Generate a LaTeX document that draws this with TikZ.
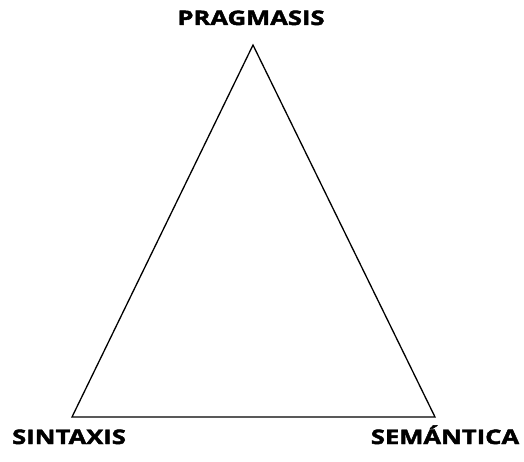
\documentclass[tikz,border=0pt]{standalone}
\usepackage{fontspec}
\setmainfont{Open Sans}
\newfontfamily\gruesa{Open Sans}[BoldFeatures={FakeBold=2.2, FakeStretch=1.28}]
\usetikzlibrary{positioning}
\tikzset{
  vertice/.style={inner sep=0pt},
  etiqueta/.style={font=\fontsize{20}{24}\gruesa\bfseries, inner sep=0pt, anchor=base}
}

\begin{document}
\begin{tikzpicture}[x=1pt, y=-1pt]
  \useasboundingbox (0,0) rectangle (524,462);
  \coordinate (pra) at (253,45);
  \coordinate (sin) at (72,417);
  \coordinate (sem) at (435,417);
  \draw[line width=1.3pt, line join=miter] (pra) -- (sin) -- (sem) -- cycle;
  \node[etiqueta] (lpra) at (251,25) {PRAGMASIS};
  \node[etiqueta] (lsin) at (69,444) {SINTAXIS};
  \node[etiqueta] (lsem) at (445,444) {SEMÁNTICA};
\end{tikzpicture}
\end{document}
